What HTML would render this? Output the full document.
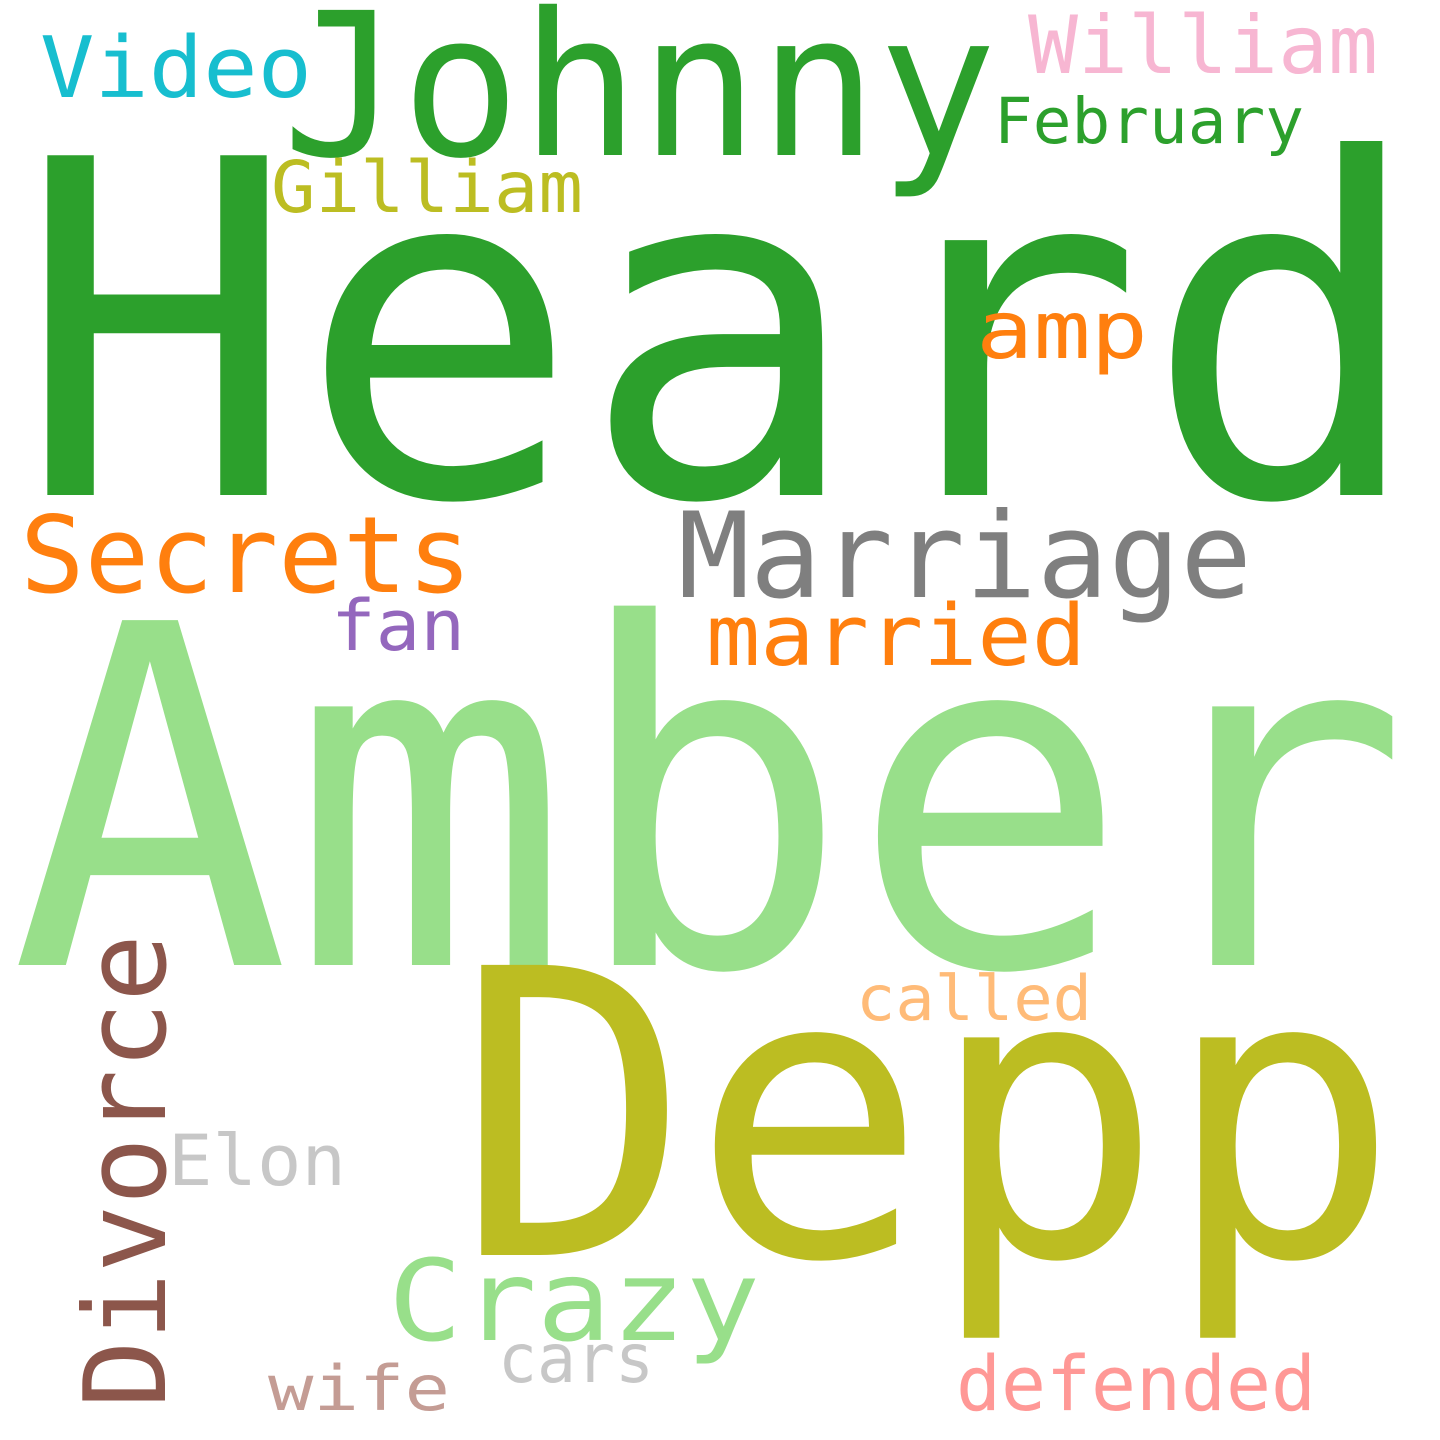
<!DOCTYPE html>
<html><head><meta charset="utf-8"><style>
html,body{margin:0;padding:0;background:#fff;}
svg{display:block;}
text{font-family:"DejaVu Sans Mono","Liberation Mono",monospace;}
</style></head>
<body>
<svg id="cloud" width="1440" height="1440" viewBox="0 0 1440 1440" xmlns="http://www.w3.org/2000/svg">
<rect width="1440" height="1440" fill="#ffffff"/>
</svg>
<script>
const words = ["Heard","Amber","Depp","Johnny","Marriage","Secrets","married","Divorce","Crazy","William","Video","amp","defended","Gilliam","Elon","fan","February","called","cars","wife"];
const colors = ["#2ca02c","#98df8a","#bcbd22","#2ca02c","#7f7f7f","#ff7f0e","#ff7f0e","#8c564b","#98df8a","#f7b6d2","#17becf","#ff7f0e","#ff9896","#bcbd22","#c7c7c7","#9467bd","#2ca02c","#ffbb78","#c7c7c7","#c49c94"];
// layout: [left x, baseline y, text length, font size, rotated]
const layout = [
 [16,495,1410,466,0],
 [10,965,1400,473,0],
 [455,1255,945,398,0],
 [282,155,715,199,0],
 [678,597,574,119,0],
 [20,592,452,106,0],
 [706,665,380,85,0],
 [165,1408,474,113,1],
 [388,1340,372,112,0],
 [1028,73,350,80,0],
 [40,97,272,85,0],
 [976,358,172,80,0],
 [956,1410,360,76,0],
 [271,212,312,71,0],
 [168,1185,178,70,0],
 [331,650,134,70,0],
 [994,143,310,63,0],
 [856,1020,236,62,0],
 [498,1382,156,68,0],
 [268,1410,182,62,0]
];
const svg = document.getElementById('cloud');
const NS = "http://www.w3.org/2000/svg";
words.forEach((w,i)=>{
  const [x,y,len,fs,rot] = layout[i];
  const t = document.createElementNS(NS,'text');
  
  
  t.setAttribute('x', x);
  t.setAttribute('y', y);
  t.setAttribute('font-size', fs);
  t.setAttribute('fill', colors[i]);
  t.setAttribute('textLength', len);
  t.setAttribute('lengthAdjust', 'spacingAndGlyphs');
  if (rot) t.setAttribute('transform', 'rotate(-90 ' + x + ' ' + y + ')');
  t.textContent = w;
  svg.appendChild(t);
});
</script>
</body></html>
